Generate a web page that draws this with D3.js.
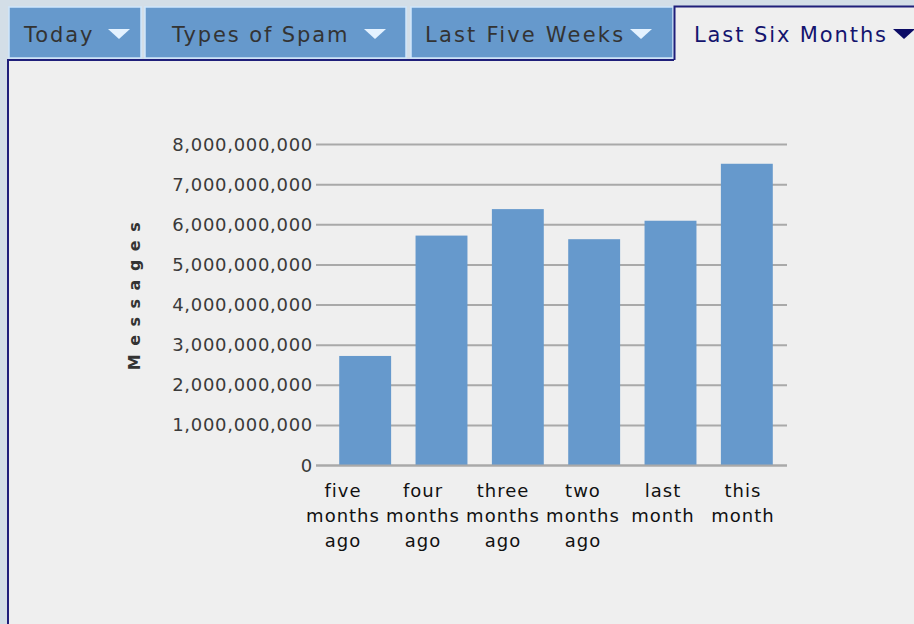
<!DOCTYPE html>
<html>
<head>
<meta charset="utf-8">
<script src="https://cdn.jsdelivr.net/npm/d3@7"></script>
<style>
  body { margin: 0; background: #efefef; }
  svg { display: block; }
</style>
</head>
<body>
<div id="container"></div>
<script>
var width = 914,
    height = 624;

// chart data
var categories = [
  ['five', 'months', 'ago'],
  ['four', 'months', 'ago'],
  ['three', 'months', 'ago'],
  ['two', 'months', 'ago'],
  ['last', 'month'],
  ['this', 'month']
];
var messages = [2730000000, 5730000000, 6390000000, 5640000000, 6100000000, 7520000000];
var yTicks = [0, 1e9, 2e9, 3e9, 4e9, 5e9, 6e9, 7e9, 8e9];
var tabNames = ['Today', 'Types of Spam', 'Last Five Weeks', 'Last Six Months'];

var svg = d3.select('#container').append('svg')
    .attr('width', width)
    .attr('height', height);

// background
svg.append('rect').attr('width', width).attr('height', height).attr('fill', '#d3dee7');
svg.append('rect').attr('x', 8).attr('y', 60).attr('width', width).attr('height', height)
    .attr('fill', '#efefef');

// tabs
var tabs = [
  {x: 9, w: 132, tx: 24, tri: 108},
  {x: 145, w: 261, tx: 172, tri: 364},
  {x: 411, w: 262, tx: 425, tri: 630},
  {x: 674, w: 250, tx: 694, tri: 893, active: true}
];

tabs.forEach(function(t, i) {
  if (t.active) {
    svg.append('rect').attr('x', t.x).attr('y', 6).attr('width', t.w).attr('height', 58)
        .attr('fill', '#efefef');
    svg.append('path')
        .attr('d', 'M' + (t.x + 0.5) + ',60 V6.5 H' + width)
        .attr('fill', 'none').attr('stroke', '#1f1f7a').attr('stroke-width', 2);
  } else {
    svg.append('rect').attr('x', t.x).attr('y', 7).attr('width', t.w).attr('height', 51)
        .attr('fill', '#6699cc').attr('stroke', '#cfe6fb').attr('stroke-width', 1.5);
  }
  svg.append('text')
      .attr('x', t.tx).attr('y', 42)
      .attr('font-family', 'DejaVu Sans')
      .attr('font-size', 21)
      .attr('letter-spacing', i == 2 ? 2.2 : 1.9)
      .attr('fill', t.active ? '#14146e' : '#333')
      .text(tabNames[i]);
  svg.append('path')
      .attr('d', 'M' + t.tri + ',29 h22 l-11,10 z')
      .attr('fill', t.active ? '#0c0c66' : '#e4f2ff');
});

// panel border
svg.append('path')
    .attr('d', 'M8,' + height + ' V60 H674')
    .attr('fill', 'none').attr('stroke', '#1f1f7a').attr('stroke-width', 2);

// chart
var x = d3.scaleBand()
    .domain(d3.range(categories.length))
    .range([327, 785])
    .paddingInner(0.32)
    .paddingOuter(0.16);

// the category labels sit in their own, slightly narrower slots
var xLabel = d3.scaleBand()
    .domain(d3.range(categories.length))
    .range([303, 783]);

var y = d3.scaleLinear()
    .domain([0, 8e9])
    .range([465.5, 144.5]);

var grid = svg.append('g');
grid.selectAll('line')
    .data(yTicks)
    .enter().append('line')
    .attr('x1', 316).attr('x2', 787)
    .attr('y1', function(d) { return y(d); })
    .attr('y2', function(d) { return y(d); })
    .attr('stroke', '#a9a9a9')
    .attr('stroke-width', 2);

grid.selectAll('text')
    .data(yTicks)
    .enter().append('text')
    .attr('x', 313)
    .attr('y', function(d) { return y(d) + 6; })
    .attr('text-anchor', 'end')
    .attr('font-family', 'DejaVu Sans')
    .attr('font-size', 18)
    .attr('letter-spacing', 0.7)
    .attr('fill', '#3a3a3a')
    .text(function(d) { return d3.format(',')(d); });

svg.append('g').selectAll('rect')
    .data(messages)
    .enter().append('rect')
    .attr('x', function(d, i) { return x(i); })
    .attr('y', function(d) { return y(d); })
    .attr('width', x.bandwidth())
    .attr('height', function(d) { return y(0) - y(d); })
    .attr('fill', '#6699cc');

// redraw zero line over bars
svg.append('line')
    .attr('x1', 316).attr('x2', 787)
    .attr('y1', y(0)).attr('y2', y(0))
    .attr('stroke', '#a9a9a9').attr('stroke-width', 2);

var labels = svg.append('g').selectAll('text')
    .data(categories)
    .enter().append('text')
    .attr('x', function(d, i) { return xLabel(i) + xLabel.bandwidth() / 2; })
    .attr('y', 497)
    .attr('text-anchor', 'middle')
    .attr('font-family', 'DejaVu Sans')
    .attr('font-size', 18)
    .attr('letter-spacing', 1)
    .attr('fill', '#111');

labels.selectAll('tspan')
    .data(function(d) { return d; })
    .enter().append('tspan')
    .attr('x', function() { return d3.select(this.parentNode).attr('x'); })
    .attr('dy', function(d, i) { return i ? 25 : 0; })
    .text(function(d) { return d; });

svg.append('text')
    .attr('transform', 'translate(140,292) rotate(-90)')
    .attr('text-anchor', 'middle')
    .attr('font-family', 'DejaVu Sans')
    .attr('font-weight', 'bold')
    .attr('font-size', 16)
    .attr('letter-spacing', 8.5)
    .attr('fill', '#333')
    .text('Messages');
</script>
</body>
</html>
